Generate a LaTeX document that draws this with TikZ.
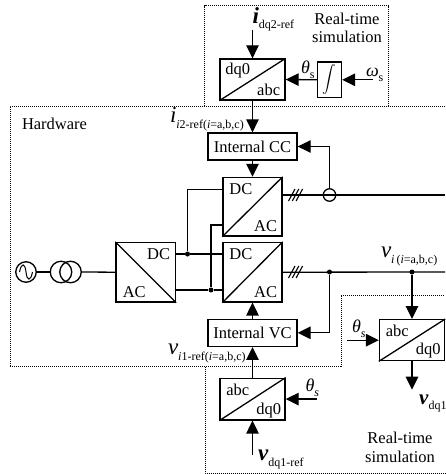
\documentclass[tikz,border=0pt]{standalone}
\usepackage{fontspec}
\setmainfont{Liberation Serif}
\usepackage{tikz}
\usetikzlibrary{arrows.meta,calc}
\newcommand{\symlab}[3]{{\fontsize{#3}{#3}\selectfont #1}\raisebox{-5.5pt}{\fontsize{12}{12}\selectfont #2}}
\tikzset{
  blockbox/.style={draw,line width=1.35pt,inner sep=0pt},
  wire/.style={line width=1.3pt},
  sig/.style={line width=1.3pt,-{Triangle[length=13pt,width=12.5pt]}},
  region/.style={line width=0.8pt,dash pattern=on 1pt off 1pt},
  jdot/.style={circle,fill,inner sep=0pt,minimum size=5pt},
  lab/.style={anchor=base west,inner sep=0pt,outer sep=0pt}
}
\begin{document}
\begin{tikzpicture}[x=1pt,y=-1pt, every node/.style={font=\fontsize{16.5}{19}\selectfont}]
  \useasboundingbox (0,0) rectangle (445,474);
  % dotted regions
  \draw[region] (204.5,106) |- (388.5,5.5) -- (388.5,106);
  \draw[region] (445,106) -- (10,106) |- (341,366.7) |- (445,295.7);
  \draw[region] (205,366.7) |- (445,473);
  % converter boxes
  \foreach \nm/\cx/\cy/\wdt/\hgt/\ul/\lr in {
    dqtop/252.5/79.5/65/41/dq0/abc,
    dcup/252.5/206.7/59/58.5/DC/AC,
    dclow/252.5/272.2/59/59.5/DC/AC,
    abcv/252.5/399.1/65/41.7/abc/dq0,
    abcr/412/340.2/65/41/abc/dq0} {
    \node[blockbox,minimum width=\wdt pt,minimum height=\hgt pt] (\nm) at (\cx,\cy) {};
    \draw[wire] (\nm.south west) -- (\nm.north east);
    \node (\nm-ul) at ($(\nm.north west)+(18.5,12)$) {\ul};
    \node (\nm-lr) at ($(\nm.south east)+(-17,-10.5)$) {\lr};
  }
  \node[blockbox,minimum width=59.5pt,minimum height=59.5pt] (rect) at (145.7,272.2) {};
  \draw[wire] (rect.north west) -- (rect.south east);
  \node (rect-dc) at ($(rect.north east)+(-17.5,12)$) {DC};
  \node (rect-ac) at ($(rect.south west)+(19,-11)$) {AC};
  % controllers
  \node[blockbox,minimum width=89pt,minimum height=27pt] (cc) at (252.5,146.5) {Internal CC};
  \node[blockbox,minimum width=89pt,minimum height=27pt] (vc) at (252.5,332.8) {Internal VC};
  \node[blockbox,minimum width=24pt,minimum height=35.5pt] (intg) at (329.5,79.8) {};
  \node[scale=1.35] (intsym) at (329.5,79.8) {$\displaystyle\int$};
  % grid side
  \node[draw,wire,circle,minimum size=20.5pt,inner sep=0pt] (src) at (26,272) {};
  \draw[line width=1pt] (19.5,272) .. controls (21.5,262) and (25,263) .. (26,272) .. controls (27,281) and (30.5,282) .. (32.5,272);
  \node[draw,wire,circle,minimum size=21.5pt,inner sep=0pt] (tra) at (61,272) {};
  \node[draw,wire,circle,minimum size=21.5pt,inner sep=0pt] (trb) at (70.5,272) {};
  \draw[wire] (src.east) -- (tra.west);
  \draw[wire] (trb.east) -- (rect.west);
  % junctions
  \node[jdot] (ja) at (187.5,254) {};
  \node[jdot] (jb) at (211,290) {};
  \node[jdot] (jc) at (329.5,272) {};
  \node[jdot] (jd) at (412,272) {};
  \node[draw,wire,circle,minimum size=12.5pt,inner sep=0pt] (sens) at (329.5,195) {};
  \coordinate (outup) at (445,195);
  \coordinate (outlow) at (445,272);
  \coordinate (upa) at (223,189.5);
  \coordinate (upb) at (223,225);
  \coordinate (dqref) at (252.5,30);
  \coordinate (wsrc) at (373,79.8);
  \coordinate (tha) at (317,399.1);
  \coordinate (thb) at (347,340.2);
  \coordinate (vref) at (252.5,455);
  \coordinate (vout) at (412,389.7);
  % wires
  \draw[wire] (dcup.east |- outup) -- (outup);
  \draw[wire] (dclow.east) -- (outlow);
  \draw[wire] (upa) -| (ja);
  \draw[wire] (upb) -| (jb);
  \draw[wire] (rect.east |- ja) -- (ja) -- (dclow.west |- ja);
  \draw[wire] (rect.east |- jb) -- (jb) -- (dclow.west |- jb);
  \foreach \k in {0,1,2} {
    \draw[line width=1.1pt] (288.5+\k*3.8,201) -- (295+\k*3.8,189);
    \draw[line width=1.1pt] (288.5+\k*3.8,278) -- (295+\k*3.8,266);
  }
  % signals
  \draw[sig] (dqref) -- (dqtop.north);
  \draw[sig] (intg.west) -- (dqtop.east);
  \draw[sig] (wsrc) -- (intg.east);
  \draw[sig] (dqtop.south) -- (cc.north);
  \draw[sig] (cc.south) -- (dcup.north);
  \draw[sig] (sens.north) |- (cc.east);
  \draw[sig] (jc) |- (vc.east);
  \draw[sig] (vc.north) -- (dclow.south);
  \draw[sig] (abcv.north) -- (vc.south);
  \draw[sig] (tha) -- (abcv.east);
  \draw[sig] (vref) -- (abcv.south);
  \draw[sig] (jd) -- (abcr.north);
  \draw[sig] (thb) -- (abcr.west);
  \draw[sig] (abcr.south) -- (vout);
  % labels
  \node (hw) [lab] at (22,129.5) {Hardware};
  \node (rta) at (347,18.5) {Real-time};
  \node (rtb) at (347,37) {simulation};
  \node (rtc) at (400,438) {Real-time};
  \node (rtd) at (400,456.7) {simulation};
  \node (ldq) [lab] at (252.5,23) {\symlab{\textbf{\textit{i}}}{dq2-ref}{23}};
  \node (lci) [lab] at (170,122.5) {\symlab{\textit{i}}{\textit{i}2-ref(\textit{i}=a,b,c)}{23}};
  \node (lvi) [lab] at (381,257.5) {\symlab{\textit{v}}{\textit{i}\,(\textit{i}=a,b,c)}{23}};
  \node (lvr) [lab] at (168,354.5) {\symlab{\textit{v}}{\textit{i}1-ref(\textit{i}=a,b,c)}{23}};
  \node (lvd) [lab] at (258,460.5) {\symlab{\textbf{\textit{v}}}{dq1-ref}{23}};
  \node (lvq) [lab] at (419,404) {\symlab{\textbf{\textit{v}}}{dq1}{21}};
  \node (lta) [lab] at (301,73) {\symlab{\textit{θ}}{s}{18}};
  \node (lw) [lab] at (366,76) {\symlab{\textit{ω}}{s}{18}};
  \node (ltb) [lab] at (305.5,391) {\symlab{\textit{θ}}{\textit{s}}{18}};
  \node (ltc) [lab] at (352,332) {\symlab{\textit{θ}}{\textit{s}}{18}};
\end{tikzpicture}
\end{document}
